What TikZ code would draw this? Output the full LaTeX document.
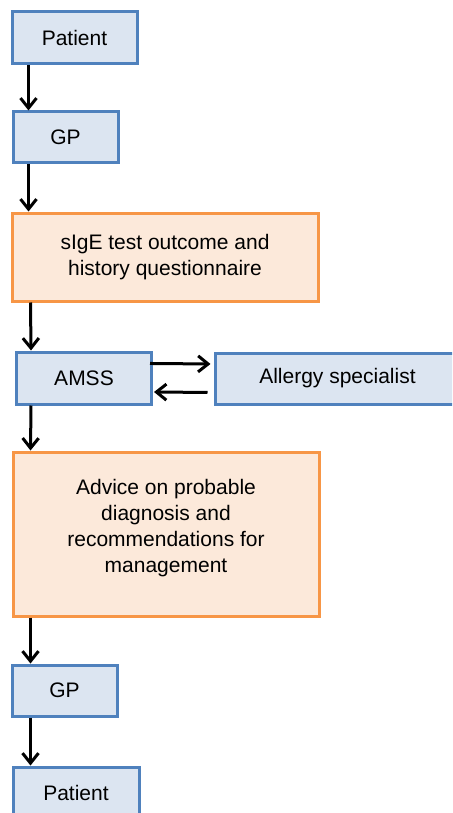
\documentclass[tikz,border=0pt]{standalone}
\usepackage{fontspec}
\setmainfont{Liberation Sans}
\usetikzlibrary{arrows.meta}
\definecolor{boxblue}{RGB}{79,129,189}
\definecolor{fillblue}{RGB}{220,229,241}
\definecolor{boxorange}{RGB}{247,150,70}
\definecolor{fillorange}{RGB}{252,233,218}
\begin{document}
\begin{tikzpicture}[x=1pt,y=-1pt,
    bluebox/.style={draw=boxblue,fill=fillblue,line width=3pt,inner sep=0pt},
    orangebox/.style={draw=boxorange,fill=fillorange,line width=3pt,inner sep=0pt,align=center},
    arr/.style={-{Straight Barb[length=10pt,width=16pt]},line width=3pt},
    every node/.style={font=\fontsize{21}{26}\selectfont}]
    \useasboundingbox (0,0) rectangle (452,813);
    \clip (0,0) rectangle (452,813);
    % boxes, centres in pixels
    \node[bluebox,minimum width=125pt,minimum height=52pt] (patA) at (74.5,38) {Patient};
    \node[bluebox,minimum width=105pt,minimum height=51pt] (gpA) at (65.5,137.5) {GP};
    \node[orangebox,minimum width=306pt,minimum height=88pt] (test) at (165,257) {sIgE test outcome and\\history questionnaire};
    \node[bluebox,minimum width=135pt,minimum height=52pt] (amss) at (84,378) {AMSS};
    \node[bluebox,minimum width=245pt,minimum height=51pt] (spec) at (337.5,378.5) {Allergy specialist};
    \node[orangebox,minimum width=306pt,minimum height=164pt,text depth=16pt] (advice) at (166,534) {Advice on probable\\diagnosis and\\recommendations for\\management};
    \node[bluebox,minimum width=105pt,minimum height=51pt] (gpB) at (64.5,690.5) {GP};
    \node[bluebox,minimum width=126pt,minimum height=52pt] (patB) at (76,793) {Patient};
    % down arrows
    \draw[arr] ([xshift=18pt]patA.south west) -- ([xshift=17pt]gpA.north west);
    \draw[arr] ([xshift=17pt]gpA.south west) -- ([xshift=18pt]test.north west);
    \draw[arr] ([xshift=20pt]test.south west) -- ([xshift=16pt]amss.north west);
    \draw[arr] ([xshift=16pt]amss.south west) -- ([xshift=19pt]advice.north west);
    \draw[arr] ([xshift=19pt]advice.south west) -- ([xshift=20pt]gpB.north west);
    \draw[arr] ([xshift=20pt]gpB.south west) -- ([xshift=19pt]patB.north west);
    % to and from the specialist
    \draw[arr,shorten <=-3pt,shorten >=3pt] ([yshift=14.5pt]amss.east) -- ([yshift=14.5pt]spec.west);
    \draw[arr,shorten <=6pt,shorten >=1pt] ([yshift=-14pt]spec.west) -- ([yshift=-14pt]amss.east);
\end{tikzpicture}
\end{document}
